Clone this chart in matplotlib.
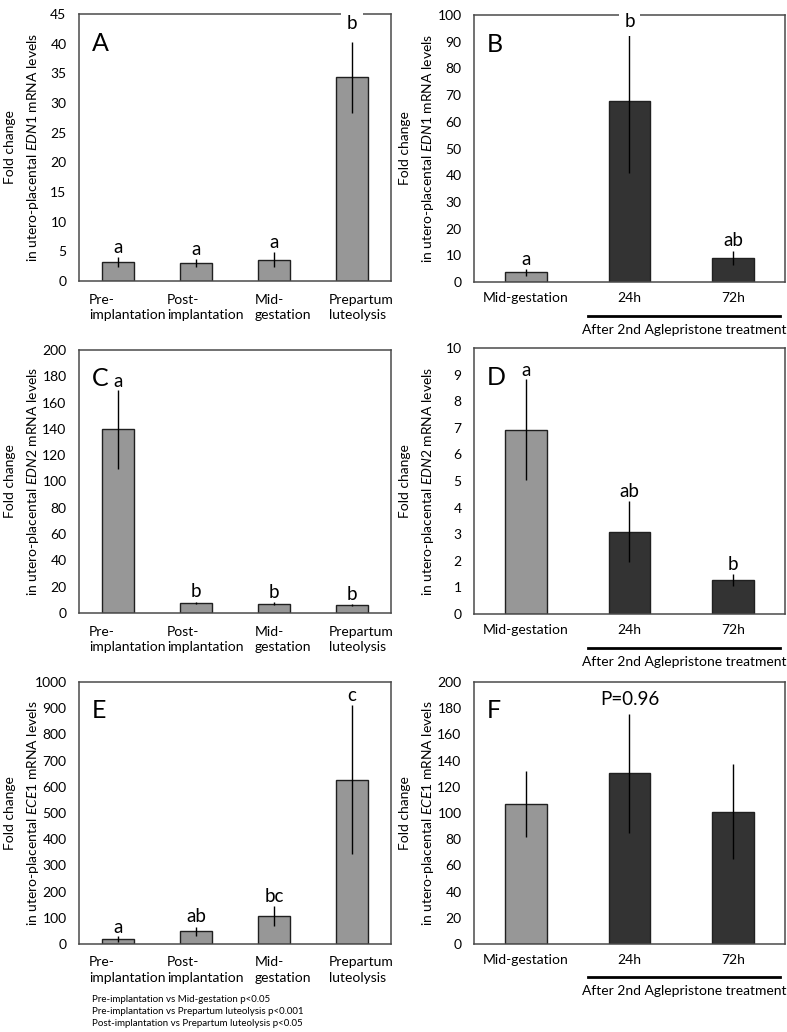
import numpy as np
import matplotlib.pyplot as plt
import matplotlib.transforms as mtransforms

plt.rcParams['font.family'] = ['Lato', 'DejaVu Sans']
plt.rcParams['mathtext.fontset'] = 'custom'
plt.rcParams['mathtext.rm'] = 'Lato'
plt.rcParams['mathtext.it'] = 'Lato:italic'

# stage categories (left column) and treatment groups (right column)
stages = ['Pre-\nimplantation', 'Post-\nimplantation', 'Mid-\ngestation', 'Prepartum\nluteolysis']
groups = ['Mid-gestation', '24h', '72h']

# A: EDN1 by stage
edn1_stage = [3.2, 3.0, 3.6, 34.3]
edn1_stage_err = [0.8, 0.65, 1.3, 6.0]
edn1_stage_sig = ['a', 'a', 'a', 'b']

# B: EDN1 after aglepristone
edn1_trt = [3.6, 67.7, 9.0]
edn1_trt_err = [1.2, 26.7, 2.7]
edn1_trt_sig = ['a', 'b', 'ab']

# C: EDN2 by stage
edn2_stage = [139.8, 7.6, 7.1, 5.8]
edn2_stage_err = [30.0, 1.0, 1.0, 0.8]
edn2_stage_sig = ['a', 'b', 'b', 'b']

# D: EDN2 after aglepristone
edn2_trt = [6.93, 3.1, 1.27]
edn2_trt_err = [1.9, 1.13, 0.23]
edn2_trt_sig = ['a', 'ab', 'b']

# E: ECE1 by stage
ece1_stage = [19, 48, 107, 627]
ece1_stage_err = [10, 18, 37, 285]
ece1_stage_sig = ['a', 'ab', 'bc', 'c']

# F: ECE1 after aglepristone
ece1_trt = [106.8, 130.2, 101.1]
ece1_trt_err = [25.5, 45.6, 36.3]
ece1_trt_sig = ['', 'P=0.96', '']

notes_E = ['Pre-implantation vs Mid-gestation p<0.05',
           'Pre-implantation vs Prepartum luteolysis p<0.001',
           'Post-implantation vs Prepartum luteolysis p<0.05']

W, H = 787, 1032
fig = plt.figure(figsize=(W / 100, H / 100), dpi=100)


def rect(left, top, right, bottom):
    return [left / W, 1 - bottom / H, (right - left) / W, (bottom - top) / H]


GRAY = '#979797'
DARK = '#333333'
FRAME = '#4a4a4a'


def panel(r, labels, vals, errs, sig, ymax, ystep, gene, letter, treated=False, sig_pad=None):
    ax = fig.add_axes(r)
    x = np.arange(len(vals))
    colors = [GRAY] + [DARK] * (len(vals) - 1) if treated else [GRAY] * len(vals)
    ax.bar(x, vals, width=0.4, color=colors, edgecolor='#202020', linewidth=1, zorder=2)
    ax.errorbar(x, vals, yerr=errs, fmt='none', ecolor='black', elinewidth=1, capsize=0, zorder=3)
    ax.set_xlim(-0.5, len(vals) - 0.5)
    ax.set_ylim(0, ymax)
    ax.set_yticks(np.arange(0, ymax + ystep / 2, ystep))
    ax.set_xticks(x)
    ax.set_xticklabels(labels)
    ax.tick_params(axis='both', length=0, labelsize=10, colors='black')
    ax.tick_params(axis='y', pad=9)
    ax.tick_params(axis='x', pad=9 if not treated else 7)
    if not treated:
        shift = mtransforms.ScaledTranslation(0.09, 0, fig.dpi_scale_trans)
        for t in ax.get_xticklabels():
            t.set_multialignment('left')
            t.set_linespacing(1.35)
            t.set_transform(t.get_transform() + shift)
    for s in ax.spines.values():
        s.set_color(FRAME)
        s.set_linewidth(1.1)
    # y label with italic gene name
    ax.text(-0.182, 0.5, 'Fold change\nin utero-placental $\\mathit{' + gene + '}$ mRNA levels',
            transform=ax.transAxes, rotation=90, ha='center', va='center',
            fontsize=10, linespacing=1.75)
    ax.text(0.04, 0.89, letter, transform=ax.transAxes, fontsize=18, ha='left', va='center')
    if sig_pad is None:
        sig_pad = [2] * len(vals)
    for i in range(len(vals)):
        if sig[i]:
            ax.annotate(sig[i], (x[i], vals[i] + errs[i]), xytext=(0, sig_pad[i]),
                        textcoords='offset points', ha='center', va='bottom', fontsize=13.5,
                        annotation_clip=False, zorder=5)
    if treated:
        tr = ax.get_xaxis_transform()
        ax.plot([0.6, 2.45], [-0.127, -0.127], color='black', lw=2, transform=tr, clip_on=False)
        ax.text(1.525, -0.18, 'After 2nd Aglepristone treatment', transform=tr,
                ha='center', va='center', fontsize=10)
    return ax


axA = panel(rect(79, 14, 391, 281), stages, edn1_stage, edn1_stage_err, edn1_stage_sig,
            45, 5, 'EDN1', 'A', sig_pad=[1, 1, 1, 7])
axB = panel(rect(474, 15, 785, 282), groups, edn1_trt, edn1_trt_err, edn1_trt_sig,
            100, 10, 'EDN1', 'B', treated=True, sig_pad=[1, 0, 1])
axC = panel(rect(79, 350, 391, 613), stages, edn2_stage, edn2_stage_err, edn2_stage_sig,
            200, 20, 'EDN2', 'C', sig_pad=[0, 1, 1, 1])
axD = panel(rect(474, 348, 785, 614), groups, edn2_trt, edn2_trt_err, edn2_trt_sig,
            10, 1, 'EDN2', 'D', treated=True, sig_pad=[0, 1, 1])
axE = panel(rect(79, 682, 391, 944), stages, ece1_stage, ece1_stage_err, ece1_stage_sig,
            1000, 100, 'ECE1', 'E', sig_pad=[0, 1, 1, 1])
axF = panel(rect(474, 682, 785, 944), groups, ece1_trt, ece1_trt_err, ece1_trt_sig,
            200, 20, 'ECE1', 'F', treated=True, sig_pad=[1, 4, 1])

# white gaps in the top frame behind the letters that sit on it
for ax, i, vals, errs, sig, pad in [(axA, 3, edn1_stage, edn1_stage_err, edn1_stage_sig, 7),
                                    (axB, 1, edn1_trt, edn1_trt_err, edn1_trt_sig, 0)]:
    ax.annotate(sig[i], (i, vals[i] + errs[i]), xytext=(0, pad), textcoords='offset points',
                ha='center', va='bottom', fontsize=13.5, annotation_clip=False, zorder=6,
                bbox=dict(facecolor='white', edgecolor='none', pad=4))

for k, line in enumerate(notes_E):
    fig.text(92 / W, 1 - (1000 + 11.5 * k) / H, line, fontsize=7, ha='left', va='center')

fig.savefig('out.png', dpi=100)
